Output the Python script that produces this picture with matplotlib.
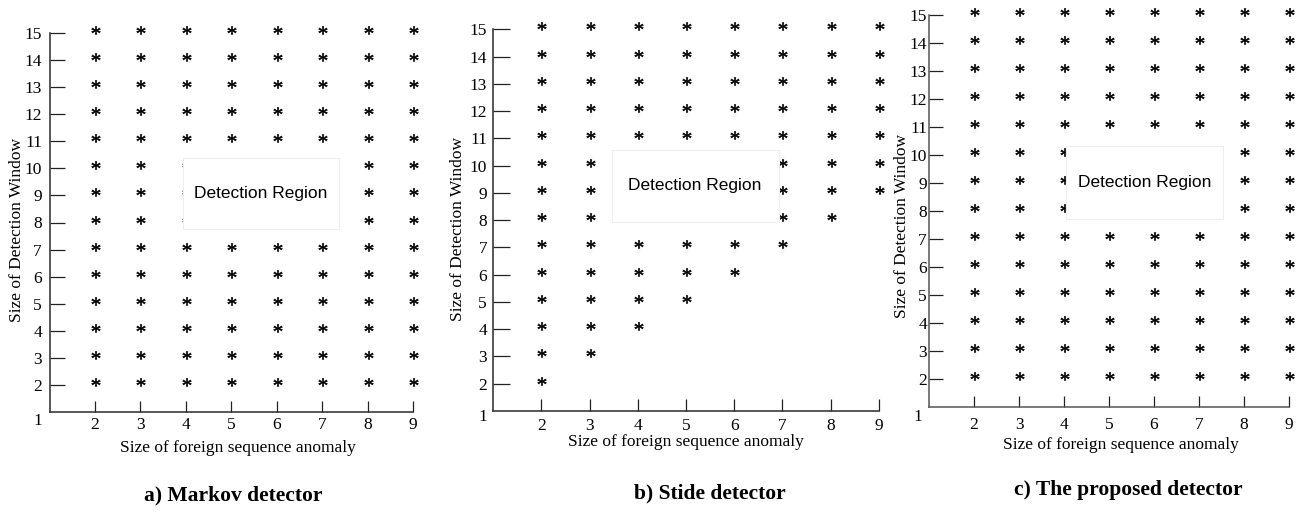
import numpy as np
import matplotlib
matplotlib.use("Agg")
import matplotlib.pyplot as plt
from matplotlib.patches import Rectangle
from matplotlib.textpath import TextPath
from matplotlib.font_manager import FontProperties
from matplotlib.path import Path

W, H = 1302, 514

# anomaly sizes (x) and window sizes (y)
anomaly_sizes = [2, 3, 4, 5, 6, 7, 8, 9]
window_sizes = [2, 3, 4, 5, 6, 7, 8, 9, 10, 11, 12, 13, 14, 15]

# smallest window with a '*' for each anomaly size (all go up to 15)
markov_first = [2, 2, 2, 2, 2, 2, 2, 2]
stide_first = [2, 3, 4, 5, 6, 7, 8, 9]
proposed_first = [2, 2, 2, 2, 2, 2, 2, 2]

titles = ["a) Markov detector", "b) Stide detector", "c) The proposed detector"]
xlabel = "Size of foreign sequence anomaly"
ylabel = "Size of Detection Window"
region_text = "Detection Region"

serif = "Liberation Serif"
sans = "Liberation Sans"

# asterisk glyph as a centred marker path
tp = TextPath((0, 0), "*", prop=FontProperties(family=serif), size=10)
v = tp.vertices.copy()
v -= (v.min(axis=0) + v.max(axis=0)) / 2
star = Path(v, tp.codes)


def fxy(x, y):
    return x / W, 1 - y / H


# panel geometry in pixels: left, right, bottom, top
panels = [
    dict(box=(49.6, 413, 412, 33), first=markov_first, region=(3.94, 7.37, 7.75, 10.37),
         ypad=5.5, xpad=3.9, ylen=11, xlen=7.7, spine="#2a2a2a",
         ylab=(17, 229.5), xlab=(238, 448), title=(233, 495), one=(42, 421)),
    dict(box=(493, 879, 411, 29.3), first=stide_first, region=(3.46, 6.92, 7.95, 10.56),
         ypad=4.3, xpad=5.0, ylen=12, xlen=8.4, spine="#2a2a2a",
         ylab=(458, 229), xlab=(686, 442), title=(710, 493), one=(487, 417)),
    dict(box=(929, 1289, 407, 15), first=proposed_first, region=(4.04, 7.53, 7.71, 10.32),
         ypad=1.5, xpad=7.0, ylen=10, xlen=8, spine="#555555",
         ylab=(902, 226), xlab=(1121, 445), title=(1128, 490), one=(922, 417)),
]

fig = plt.figure(figsize=(W / 100, H / 100), dpi=100)
fig.patch.set_facecolor("white")

for p, title in zip(panels, titles):
    l, r, b, t = p["box"]
    ax = fig.add_axes([l / W, 1 - b / H, (r - l) / W, (b - t) / H])
    ax.set_xlim(1, 9)
    ax.set_ylim(1, 15)
    for s in ["top", "right"]:
        ax.spines[s].set_visible(False)
    for s in ["left", "bottom"]:
        ax.spines[s].set_color(p["spine"])
        ax.spines[s].set_linewidth(1.1)

    ax.set_xticks(anomaly_sizes)
    ax.set_xticklabels([str(a) for a in anomaly_sizes], fontfamily=serif, fontsize=12.5)
    ax.set_yticks(window_sizes)
    ax.set_yticklabels([str(w) for w in window_sizes], fontfamily=serif, fontsize=12.5)
    ax.tick_params(axis="y", direction="in", length=p["ylen"], width=0.9,
                   pad=p["ypad"], color="#222222")
    ax.tick_params(axis="x", direction="in", length=p["xlen"], width=0.9,
                   pad=p["xpad"], color="#222222")

    xs, ys = [], []
    for a, f in zip(anomaly_sizes, p["first"]):
        for w in window_sizes:
            if w >= f:
                xs.append(a)
                ys.append(w)
    ax.plot(xs, ys, ls="none", marker=star, ms=10, mew=0.4, color="black",
            clip_on=False, zorder=3)

    x0, x1, y0, y1 = p["region"]
    ax.add_patch(Rectangle((x0, y0), x1 - x0, y1 - y0, facecolor="white",
                           edgecolor="#eeeeee", linewidth=0.8, zorder=5, clip_on=False))
    ax.text((x0 + x1) / 2, (y0 + y1) / 2, region_text, fontfamily=sans,
            fontsize=12.5, ha="center", va="center", zorder=6)

    fig.text(*fxy(*p["one"]), "1", fontfamily=serif, fontsize=12.5,
             ha="right", va="center")
    fig.text(*fxy(*p["ylab"]), ylabel, fontfamily=serif, fontsize=12.5,
             rotation=90, ha="center", va="center")
    fig.text(*fxy(*p["xlab"]), xlabel, fontfamily=serif, fontsize=12.5,
             ha="center", va="center")
    fig.text(*fxy(*p["title"]), title, fontfamily=serif, fontsize=15.5,
             fontweight="bold", ha="center", va="center")

fig.savefig("out.png", dpi=100, facecolor="white")
